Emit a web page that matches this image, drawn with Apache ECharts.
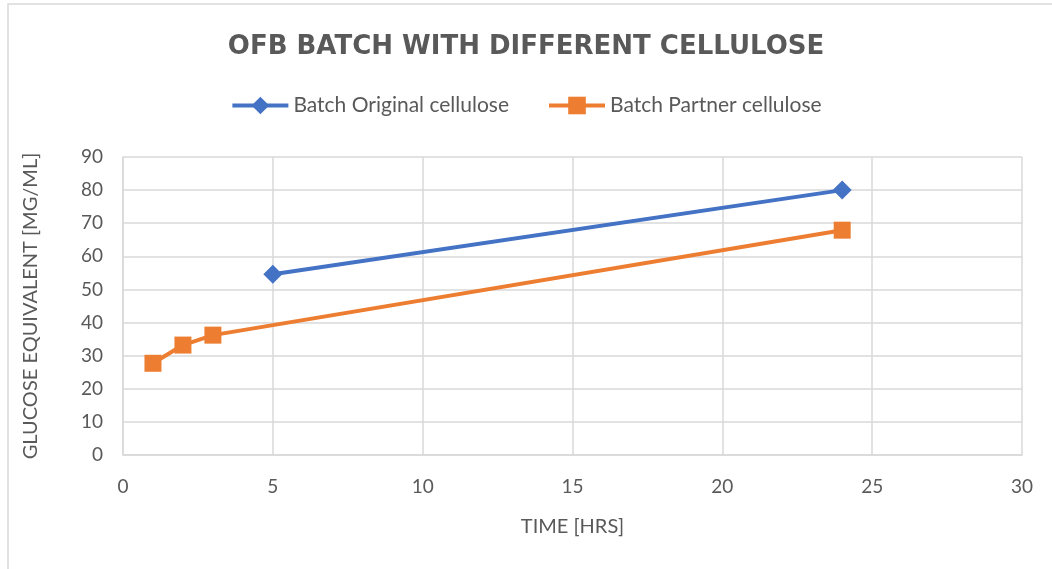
<!DOCTYPE html>
<html>
<head>
<meta charset="utf-8">
<script src="https://cdn.jsdelivr.net/npm/echarts@6/dist/echarts.min.js"></script>
<style>
  html, body { margin: 0; padding: 0; background: #fff; }
  #chart { width: 1052px; height: 569px; }
</style>
</head>
<body>
<div id="chart"></div>
<script>
// values
const originalHours = [5, 24];
const originalGlucose = [54.6, 80.0];
const partnerHours = [1, 2, 3, 24];
const partnerGlucose = [27.7, 33.2, 36.2, 67.9];
const seriesNames = ['Batch Original cellulose', 'Batch Partner cellulose'];

const textGrey = '#595959';
const gridGrey = '#d9d9d9';

const chart = echarts.init(document.getElementById('chart'));

const option = {
  backgroundColor: '#fff',
  animation: false,
  textStyle: { fontFamily: 'Lato' },
  title: {
    text: 'OFB BATCH WITH DIFFERENT CELLULOSE',
    left: 'center',
    top: 29,
    textStyle: {
      fontFamily: 'DejaVu Sans',
      fontSize: 26,
      fontWeight: 'bold',
      color: textGrey
    }
  },
  legend: {
    top: 90,
    left: 'center',
    itemWidth: 56,
    itemHeight: 22,
    itemGap: 38,
    lineStyle: { width: 4 },
    textStyle: { fontSize: 21, color: textGrey, fontFamily: 'Lato' },
    data: seriesNames
  },
  graphic: [{
    type: 'rect',
    shape: { x: 8, y: 4, width: 1060, height: 580 },
    style: { fill: 'none', stroke: '#d9d9d9', lineWidth: 1.5 },
    silent: true
  }],
  grid: { left: 123, right: 30, top: 157, bottom: 114 },
  xAxis: {
    type: 'value',
    min: 0,
    max: 30,
    interval: 5,
    name: 'TIME [HRS]',
    nameLocation: 'middle',
    nameGap: 62,
    nameTextStyle: { fontSize: 20, color: textGrey },
    axisLine: { show: true, lineStyle: { color: gridGrey, width: 1.5 } },
    axisTick: { show: false },
    axisLabel: { fontSize: 19, color: textGrey, margin: 22 },
    splitLine: { show: true, lineStyle: { color: gridGrey, width: 1.5 } }
  },
  yAxis: {
    type: 'value',
    min: 0,
    max: 90,
    interval: 10,
    name: 'GLUCOSE EQUIVALENT [MG/ML]',
    nameLocation: 'middle',
    nameGap: 82,
    nameTextStyle: { fontSize: 20, color: textGrey },
    axisLine: { show: true, lineStyle: { color: gridGrey, width: 1.5 } },
    axisTick: { show: false },
    axisLabel: { fontSize: 19, color: textGrey, margin: 20 },
    splitLine: { show: true, lineStyle: { color: gridGrey, width: 1.5 } }
  },
  series: [
    {
      name: seriesNames[0],
      type: 'line',
      symbol: 'diamond',
      symbolSize: 19,
      itemStyle: { color: '#4472C4' },
      lineStyle: { color: '#4472C4', width: 4 },
      data: originalHours.map((h, i) => [h, originalGlucose[i]])
    },
    {
      name: seriesNames[1],
      type: 'line',
      symbol: 'rect',
      symbolSize: 17,
      itemStyle: { color: '#ED7D31' },
      lineStyle: { color: '#ED7D31', width: 4 },
      data: partnerHours.map((h, i) => [h, partnerGlucose[i]])
    }
  ]
};

chart.setOption(option);
</script>
</body>
</html>
